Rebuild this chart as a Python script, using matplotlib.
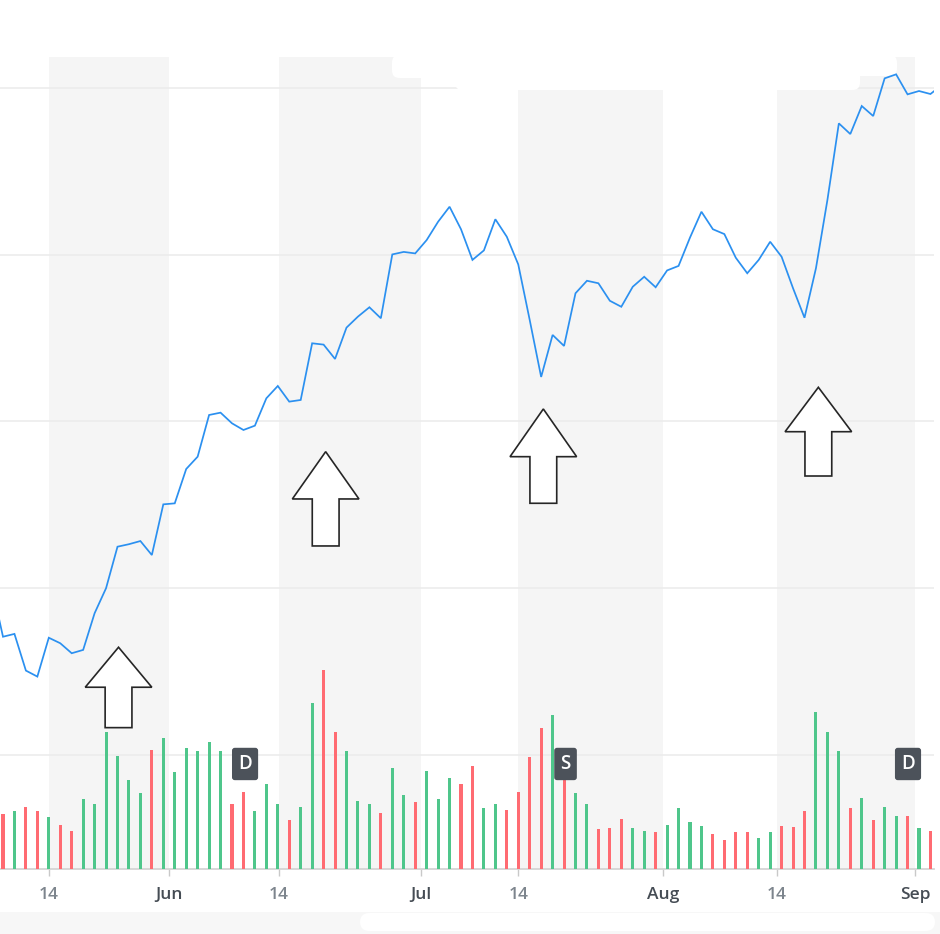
import numpy as np
import matplotlib
matplotlib.use("Agg")
import matplotlib.pyplot as plt
import matplotlib.transforms as mtransforms
from matplotlib.patches import Polygon, FancyBboxPatch

# ---------------- data ----------------
# closing price, one value per trading day (first value lies just left of view)
price = [110.19, 107.09, 107.26, 105.06, 104.70, 107.03, 106.70, 106.10, 106.30, 108.50,
         110.00, 112.49, 112.64, 112.83, 111.99, 115.03, 115.09, 117.15, 117.89, 120.39,
         120.53, 119.89, 119.49, 119.75, 121.39, 122.13, 121.19, 121.29, 124.69, 124.61,
         123.75, 125.63, 126.29, 126.85, 126.19, 130.02, 130.17, 130.08, 130.88, 131.98,
         132.88, 131.53, 129.69, 130.26, 132.13, 131.08, 129.42, 126.09, 122.67, 125.19,
         124.53, 127.69, 128.44, 128.29, 127.24, 126.88, 128.08, 128.68, 128.05, 129.06,
         129.33, 131.03, 132.58, 131.53, 131.24, 129.82, 128.89, 129.69, 130.78, 129.88,
         127.99, 126.22, 129.19, 133.28, 137.88, 137.24, 138.92, 138.32, 140.58, 140.82,
         139.62, 139.82, 139.64, 140.18]
# volume (millions), one per visible trading day
volume = [2.69, 2.84, 3.05, 2.84, 2.54, 2.15, 1.86, 3.43, 3.20, 6.75,
          5.56, 4.38, 3.71, 5.86, 6.45, 4.76, 5.93, 5.80, 6.24, 5.80,
          3.20, 3.79, 2.84, 4.17, 3.20, 2.39, 3.05, 8.16, 9.79, 6.75,
          5.80, 3.34, 3.20, 2.75, 4.97, 3.64, 3.27, 4.82, 3.41, 4.46,
          4.17, 5.06, 2.97, 3.20, 2.90, 3.79, 5.50, 6.91, 7.57, 4.86,
          3.71, 3.20, 1.93, 2.00, 2.45, 2.01, 1.86, 1.79, 2.16, 2.98,
          2.31, 2.10, 1.72, 1.42, 1.80, 1.80, 1.49, 1.80, 2.10, 2.03,
          2.84, 7.72, 6.75, 5.80, 2.98, 3.49, 2.39, 3.05, 2.60, 2.60,
          2.01, 1.86]
tick_pos = [4.02, 14.50, 24.07, 36.48, 45.00, 57.62, 67.57, 79.65]
tick_labels = ["14", "Jun", "14", "Jul", "14", "Aug", "14", "Sep"]
# shaded half-month bands (from the 14th to the 1st of next month)
band_start = [4.02, 24.07, 45.00, 67.57]
band_end = [14.50, 36.48, 57.62, 79.65]
# event markers: label, day index
events = [("D", 21.14), ("S", 49.13), ("D", 79.04)]
# up-arrow annotations: day index and price at the tip
arrow_x = [10.09, 28.18, 47.19, 71.21]
arrow_tip = [106.46, 118.19, 120.75, 122.05]
arrow_head_h = [40.0, 47.3, 47.7, 44.4]
arrow_total_h = [80.4, 94.3, 94.3, 88.7]
grid_levels = [100, 110, 120, 130, 140]

# ---------------- style ----------------
BLUE = "#2b90f0"
GREEN = "#4fc68b"
RED = "#ff6b72"
BAND = "#f5f5f5"
GRID = "#ebebeb"

W, H = 940, 934
fig = plt.figure(figsize=(W / 100, H / 100), dpi=100)
fig.patch.set_facecolor("white")

ax = fig.add_axes([0, 65.5 / H, 934 / W, 811.5 / H])
ax.set_xlim(-0.262, 81.31)
ax.set_ylim(93.19, 141.86)
ax.set_facecolor("white")

for s, e in zip(band_start, band_end):
    ax.axvspan(s, e, color=BAND, lw=0, zorder=0)
for g in grid_levels:
    ax.axhline(g, color=GRID, lw=1.1, zorder=1)

fig_px = lambda x, y: (x / W, 1 - y / H)
# redaction blobs near top
for (x0, y0, x1, y1) in [(392, 55, 470, 78), (455, 55, 860, 90), (840, 55, 897, 76)]:
    ax.add_patch(FancyBboxPatch(fig_px(x0, y1), (x1 - x0) / W, (y1 - y0) / H,
                                boxstyle="round,pad=0,rounding_size=0.008",
                                transform=fig.transFigure, facecolor="white",
                                edgecolor="none", zorder=2))

for sp in ["top", "left", "right"]:
    ax.spines[sp].set_visible(False)
ax.spines["bottom"].set_color("#d4d4d4")
ax.spines["bottom"].set_linewidth(1.3)
ax.set_yticks([])
ax.set_xticks(tick_pos)
ax.set_xticklabels(tick_labels)
ax.tick_params(axis="x", length=5, width=1, color="#c9c9c9", pad=8)
for lbl, txt in zip(ax.get_xticklabels(), tick_labels):
    lbl.set_fontfamily("Open Sans")
    lbl.set_fontsize(12.5)
    lbl.set_fontweight("semibold")
    lbl.set_color("#7d858d" if txt.isdigit() else "#454c54")

# volume bars
axv = ax.twinx()
axv.set_ylim(0, 40)
axv.set_axis_off()
days = np.arange(len(volume))
colors = [GREEN if price[i + 1] >= price[i] else RED for i in range(len(volume))]
axv.bar(days, volume, width=0.27, color=colors, linewidth=0, zorder=3)

# price line
axp = ax.twinx()
axp.set_ylim(ax.get_ylim())
axp.set_axis_off()
axp.plot(np.arange(-1, len(price) - 1), price, color=BLUE, lw=1.25,
         solid_joinstyle="miter", zorder=4)
axp.set_xlim(ax.get_xlim())
axv.set_xlim(ax.get_xlim())

# arrows
for xa, ya, hh, ht in zip(arrow_x, arrow_tip, arrow_head_h, arrow_total_h):
    verts = [(0, 0), (33.3, -hh), (13.4, -hh), (13.4, -ht),
             (-13.4, -ht), (-13.4, -hh), (-33.3, -hh)]
    tr = mtransforms.Affine2D() + mtransforms.ScaledTranslation(xa, ya, axp.transData)
    axp.add_patch(Polygon(verts, closed=True, facecolor="white", edgecolor="#262626",
                          lw=1.2, joinstyle="miter", transform=tr, clip_on=False, zorder=6))

# event markers
blend = mtransforms.blended_transform_factory(axp.transData, axp.transAxes)
for lab, xe in events:
    axp.text(xe, 0.1288, lab, transform=blend, ha="center", va="center",
             fontsize=13.5, fontfamily="Open Sans", fontweight="semibold", color="white",
             bbox=dict(boxstyle="round,pad=0.33,rounding_size=0.15",
                       facecolor="#4c525a", edgecolor="none"), zorder=7)

# bottom strip
fig.patches.append(FancyBboxPatch(fig_px(0, 934), 1, 22 / H, boxstyle="square,pad=0",
                                  transform=fig.transFigure, facecolor="#f7f7f7",
                                  edgecolor="none", zorder=-1))
fig.patches.append(FancyBboxPatch(fig_px(360, 931), (935 - 360) / W, 18 / H,
                                  boxstyle="round,pad=0,rounding_size=0.01",
                                  transform=fig.transFigure, facecolor="white",
                                  edgecolor="none", zorder=0))

fig.savefig("out.png", dpi=100, facecolor="white")
